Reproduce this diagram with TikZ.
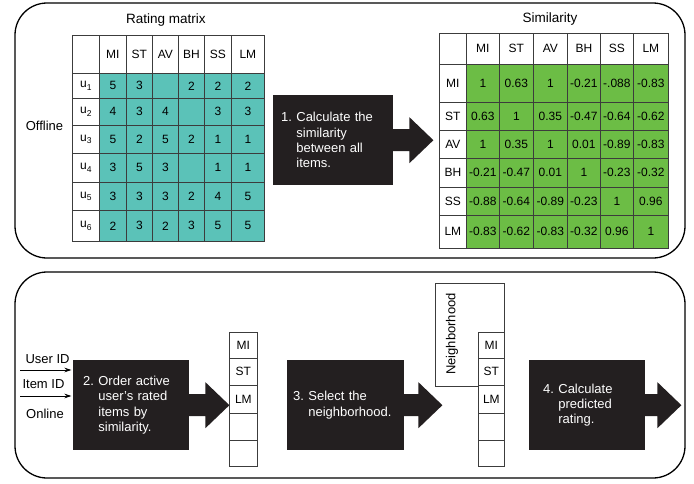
\documentclass[tikz,border=0pt]{standalone}
\usepackage{fontspec}
\setmainfont{Liberation Sans}
\usetikzlibrary{arrows.meta,calc}
\definecolor{rteal}{RGB}{91,194,184}
\definecolor{sgreen}{RGB}{108,189,69}
\definecolor{boxblack}{RGB}{35,31,32}
\definecolor{gridline}{RGB}{60,60,60}
\newcommand\usub[1]{u\raisebox{-0.45ex}{\fontsize{8.5}{9}\selectfont #1}}
\newcommand\fatarrow[2]{%
  \fill[boxblack] ($(#1.east)+(-1,11)$) -- ++(#2+1,0) -- ++(0,12) -- ++(24,-23) -- ++(-24,-23) -- ++(0,12) -- ($(#1.east)+(-1,-11)$) -- cycle;}
\begin{document}
\begin{tikzpicture}[x=1pt,y=-1pt,
  frame/.style={draw=black, line width=1.3pt, rounded corners=32pt},
  cell/.style={draw=gridline, line width=0.7pt, inner sep=0pt, anchor=north west, font=\fontsize{12}{14}\selectfont},
  blackbox/.style={fill=boxblack, text=white, anchor=north west, inner ysep=0pt, font=\fontsize{13}{15.3}\selectfont, align=left},
  titletext/.style={font=\fontsize{13.5}{16}\selectfont},
  lab/.style={font=\fontsize{13}{15}\selectfont},
  inarrow/.style={-{Stealth[length=7pt,width=4.5pt]}, line width=0.8pt, shorten >=1.5pt}
]
\useasboundingbox (0,0) rectangle (694,483);
\draw[frame] (15,3) rectangle (685,258);
\draw[frame] (15,272) rectangle (685,478);

% ---------- Rating matrix ----------
\node[titletext] (rtitle) at (166,20) {Rating matrix};
\def\rx{{72,99,126,152,178,204,231,264}}
\def\ry{{35,73,98,125,153,182,210,241}}
\foreach \t [count=\c from 0] in {{},MI,ST,AV,BH,SS,LM} {
  \pgfmathsetmacro\xa{\rx[\c]}\pgfmathsetmacro\xb{\rx[\c+1]}
  \node[cell, fill=white, minimum width={(\xb-\xa)*1pt}, minimum height=38pt] (rh\c) at (\xa,35) {\t};
}
\foreach \lab/\vals [count=\r] in {1/{5,3,{},2,2,2},2/{4,3,4,{},3,3},3/{5,2,5,2,1,1},4/{3,5,3,{},1,1},5/{3,3,3,2,4,5},6/{2,3,2,3,5,5}} {
  \pgfmathsetmacro\ya{\ry[\r]}\pgfmathsetmacro\yb{\ry[\r+1]}
  \node[cell, fill=white, minimum width=27pt, minimum height={(\yb-\ya)*1pt}] (ru\r) at (72,\ya) {\usub{\lab}};
  \foreach \v [count=\c] in \vals {
    \pgfmathsetmacro\xa{\rx[\c]}\pgfmathsetmacro\xb{\rx[\c+1]}
    \node[cell, fill=rteal, minimum width={(\xb-\xa)*1pt}, minimum height={(\yb-\ya)*1pt}] (r\r-\c) at (\xa,\ya) {\v};
  }
}
\node[lab] (offline) at (44.5,126) {Offline};

% ---------- Similarity matrix ----------
\node[titletext] (stitle) at (550,19) {Similarity};
\def\sx{{439,466,499,533,567,600,633,668}}
\def\sy{{33,64,102,130,158,187,215,248}}
\foreach \t [count=\c from 0] in {{},MI,ST,AV,BH,SS,LM} {
  \pgfmathsetmacro\xa{\sx[\c]}\pgfmathsetmacro\xb{\sx[\c+1]}
  \node[cell, fill=white, minimum width={(\xb-\xa)*1pt}, minimum height=31pt] (sh\c) at (\xa,33) {\t};
}
\foreach \lab/\vals [count=\r] in {MI/{1,0.63,1,-0.21,-.088,-0.83},ST/{0.63,1,0.35,-0.47,-0.64,-0.62},AV/{1,0.35,1,0.01,-0.89,-0.83},BH/{-0.21,-0.47,0.01,1,-0.23,-0.32},SS/{-0.88,-0.64,-0.89,-0.23,1,0.96},LM/{-0.83,-0.62,-0.83,-0.32,0.96,1}} {
  \pgfmathsetmacro\ya{\sy[\r]}\pgfmathsetmacro\yb{\sy[\r+1]}
  \node[cell, fill=white, minimum width=27pt, minimum height={(\yb-\ya)*1pt}] (su\r) at (439,\ya) {\lab};
  \foreach \v [count=\c] in \vals {
    \pgfmathsetmacro\xa{\sx[\c]}\pgfmathsetmacro\xb{\sx[\c+1]}
    \node[cell, fill=sgreen, minimum width={(\xb-\xa)*1pt}, minimum height={(\yb-\ya)*1pt}] (s\r-\c) at (\xa,\ya) {\v};
  }
}

% ---------- Step 1 ----------
\node[blackbox, inner xsep=8pt, text width=104pt, minimum height=90pt] (b1) at (273,95)
  {1.\ Calculate the\\\hphantom{1.\ }similarity\\\hphantom{1.\ }between all\\\hphantom{1.\ }items.};
\fatarrow{b1}{16}

% ---------- Online part ----------
\node[blackbox, inner xsep=10pt, text width=96pt, minimum height=90pt] (b2) at (73,360)
  {2.\ Order active\\\hphantom{2.\ }user's rated\\\hphantom{2.\ }items by\\\hphantom{2.\ }similarity.};
\fatarrow{b2}{16}

\coordinate (uid) at (20,370);
\coordinate (iid) at (20,396);
\draw[inarrow] (uid) -- (b2.west |- uid);
\draw[inarrow] (iid) -- (b2.west |- iid);
\node[lab, anchor=base west] (uidt) at (22,363) {User ID};
\node[lab, anchor=base west] (iidt) at (19,388) {Item ID};
\node[lab, anchor=base] (online) at (45,418) {Online};

\def\ly{{332,358,385,413,440,466}}
\foreach \t [count=\i from 0] in {MI,ST,LM,{},{}} {
  \pgfmathsetmacro\ya{\ly[\i]}\pgfmathsetmacro\yb{\ly[\i+1]}
  \node[cell, fill=white, minimum width=28pt, minimum height={(\yb-\ya)*1pt}] (la\i) at (229,\ya) {\t};
}

\node[blackbox, inner xsep=6pt, text width=105pt, minimum height=90pt] (b3) at (287,360)
  {3.\ Select the\\\hphantom{3.\ }neighborhood.};
\fatarrow{b3}{14}

\node[draw=gridline, line width=0.7pt, fill=white, anchor=north west, inner sep=0pt, minimum width=69pt, minimum height=103pt] (nb) at (435,283) {};
\node[lab, rotate=90] (nbt) at (452,334) {Neighborhood};
\foreach \t [count=\i from 0] in {MI,ST,LM,{},{}} {
  \pgfmathsetmacro\ya{\ly[\i]}\pgfmathsetmacro\yb{\ly[\i+1]}
  \node[cell, fill=white, minimum width=26pt, minimum height={(\yb-\ya)*1pt}] (lb\i) at (478,\ya) {\t};
}

\node[blackbox, inner xsep=14pt, text width=88pt, minimum height=90pt] (b4) at (529,360)
  {4.\ Calculate\\\hphantom{4.\ }predicted\\\hphantom{4.\ }rating.};
\fatarrow{b4}{12}
\end{tikzpicture}
\end{document}
